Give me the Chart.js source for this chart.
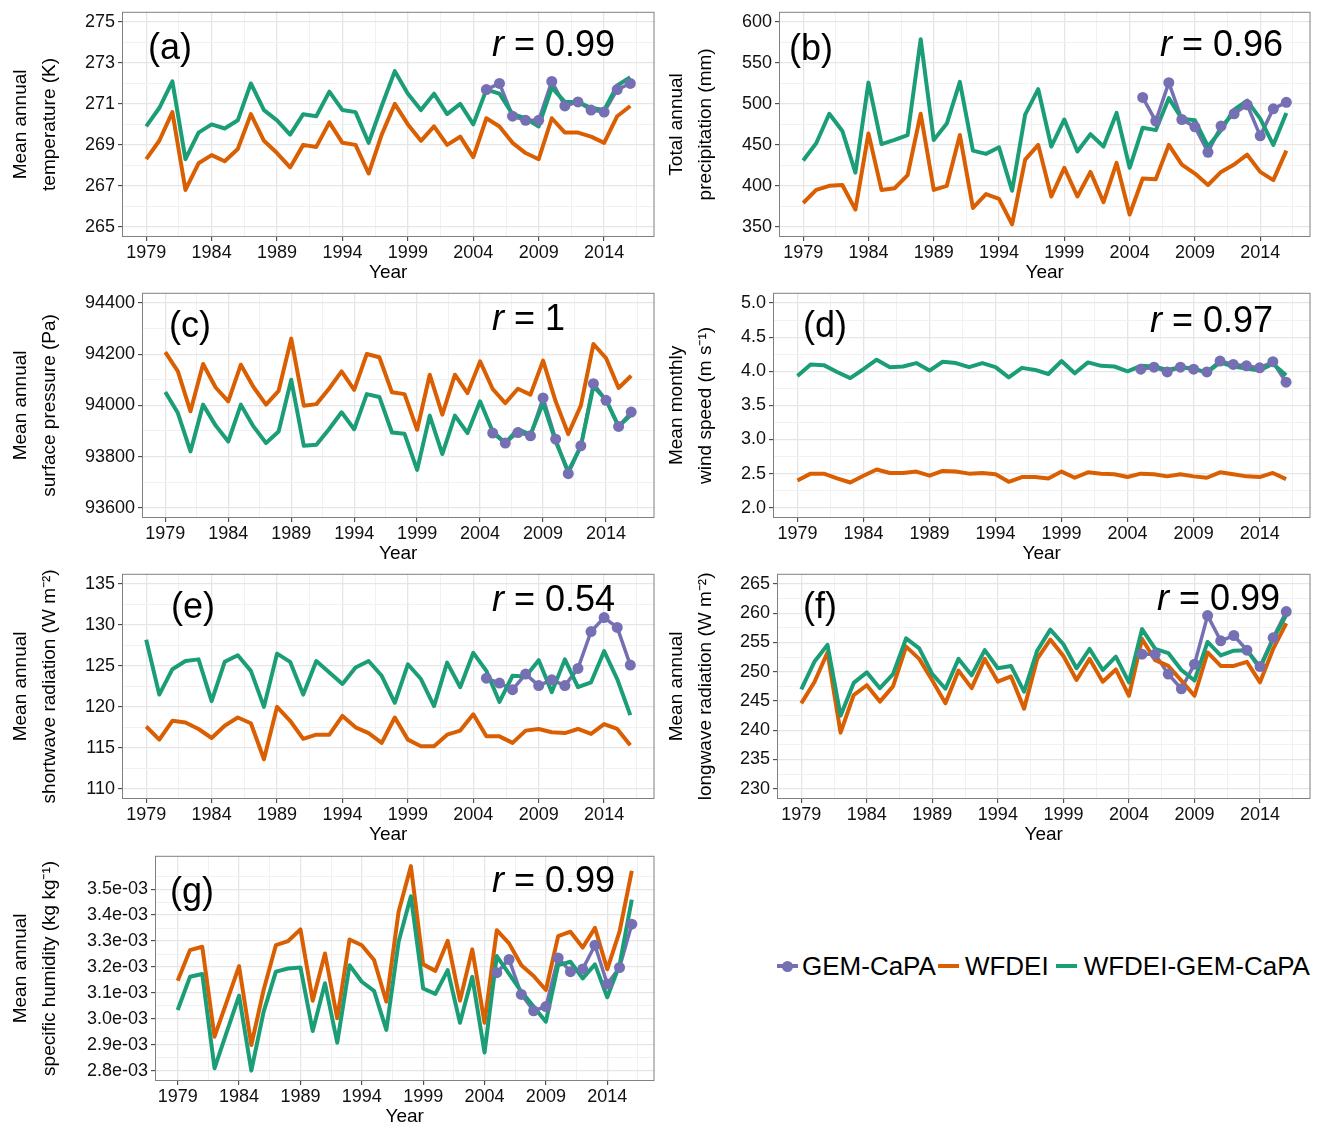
<!DOCTYPE html>
<html>
<head>
<meta charset="utf-8">
<title>WFDEI vs GEM-CaPA forcing</title>
<script src="https://cdn.jsdelivr.net/npm/chart.js@4.4.1/dist/chart.umd.min.js"></script>
<style>
  body { margin: 0; background: #fff; font-family: "Liberation Sans", Arial, sans-serif; }
  #page { position: relative; width: 1322px; height: 1135px; overflow: hidden; }
  #page canvas { position: absolute; }
  .tag { position: absolute; font-size: 36px; line-height: 36px; white-space: nowrap; color: #000; }
  #legend { position: absolute; left: 777px; top: 951px; height: 30px; display: flex; align-items: center; font-size: 26px; color: #000; white-space: nowrap; }
  .key { position: relative; width: 21px; height: 30px; flex: none; }
  .key .ln { position: absolute; left: 0; right: 0; top: 13px; height: 4px; }
  .key .pt { position: absolute; left: 5px; top: 10px; width: 11px; height: 11px; border-radius: 50%; }
</style>
</head>
<body>
<div id="page"></div>
<script>
// ---- data ----
const years = [1979, 1980, 1981, 1982, 1983, 1984, 1985, 1986, 1987, 1988, 1989, 1990, 1991,
  1992, 1993, 1994, 1995, 1996, 1997, 1998, 1999, 2000, 2001, 2002, 2003, 2004, 2005,
  2006, 2007, 2008, 2009, 2010, 2011, 2012, 2013, 2014, 2015, 2016];
const gemYears = [2005, 2006, 2007, 2008, 2009, 2010, 2011, 2012, 2013, 2014, 2015, 2016];

const seriesNames = ['GEM-CaPA', 'WFDEI', 'WFDEI-GEM-CaPA'];
const seriesColors = ['#7570b3', '#d95f02', '#1b9e77'];

const xTickStart = 1979;
const xTickStep = 5;
const xTickLast = 2014;

// (a) temperature, K
const tempWfdei = [268.3, 269.2, 270.6, 266.8, 268.1, 268.5, 268.2, 268.8, 270.5, 269.2, 268.6, 267.9, 269.0,
  268.9, 270.1, 269.1, 269.0, 267.6, 269.5, 271.0, 270.0, 269.2, 269.9, 269.0, 269.4, 268.4, 270.3,
  269.9, 269.1, 268.6, 268.3, 270.3, 269.6, 269.6, 269.4, 269.1, 270.4, 270.9];
const tempWfdeiGem = [269.9, 270.8, 272.1, 268.3, 269.6, 270.0, 269.8, 270.2, 272.0, 270.7, 270.2, 269.5, 270.5,
  270.4, 271.6, 270.7, 270.6, 269.1, 270.9, 272.6, 271.5, 270.7, 271.5, 270.5, 271.0, 270.0, 271.7,
  271.5, 270.5, 270.3, 269.9, 271.8, 271.1, 271.1, 270.8, 270.7, 271.9, 272.3];
const tempGem = [271.7, 272.0, 270.4, 270.2, 270.2, 272.1, 270.9, 271.1, 270.7, 270.6, 271.7, 272.0];

// (b) precipitation, mm
const precipWfdei = [379, 395, 400, 401, 371, 464, 395, 397, 413, 488, 395, 400, 462,
  373, 390, 384, 353, 432, 450, 387, 422, 387, 417, 380, 428, 365, 409,
  408, 450, 426, 415, 401, 417, 426, 438, 417, 407, 443];
const precipWfdeiGem = [431, 452, 488, 467, 416, 526, 451, 456, 462, 579, 456, 476, 527,
  443, 439, 447, 394, 487, 518, 448, 481, 442, 463, 448, 489, 422, 471,
  468, 507, 482, 480, 448, 468, 493, 504, 482, 450, 489];
const precipGem = [508, 479, 526, 481, 472, 441, 473, 488, 499, 461, 494, 502];

// (c) surface pressure, Pa
const presWfdei = [94208, 94133, 93977, 94162, 94070, 94016, 94159, 94072, 94003, 94057, 94261, 93999, 94005,
  94065, 94133, 94061, 94201, 94188, 94051, 94044, 93905, 94120, 93964, 94120, 94048, 94172, 94064,
  94009, 94065, 94042, 94175, 94016, 93888, 93999, 94240, 94185, 94068, 94116];
const presWfdeiGem = [94052, 93970, 93820, 94003, 93921, 93859, 94003, 93918, 93853, 93898, 94100, 93842, 93846,
  93907, 93973, 93907, 94044, 94033, 93894, 93889, 93748, 93960, 93810, 93960, 93892, 94016, 93898,
  93853, 93907, 93885, 94009, 93859, 93742, 93840, 94074, 94022, 93918, 93963];
const presGem = [93892, 93853, 93894, 93881, 94029, 93868, 93733, 93842, 94085, 94020, 93918, 93974];

// (d) wind speed, m/s
const windWfdei = [2.40, 2.50, 2.50, 2.43, 2.37, 2.47, 2.56, 2.51, 2.51, 2.53, 2.47, 2.54, 2.53,
  2.50, 2.51, 2.49, 2.38, 2.45, 2.45, 2.43, 2.53, 2.44, 2.52, 2.50, 2.49, 2.45, 2.50,
  2.49, 2.46, 2.49, 2.46, 2.44, 2.52, 2.49, 2.46, 2.45, 2.51, 2.42];
const windWfdeiGem = [3.93, 4.10, 4.09, 3.99, 3.90, 4.03, 4.17, 4.06, 4.07, 4.12, 4.01, 4.14, 4.12,
  4.06, 4.12, 4.06, 3.91, 4.05, 4.02, 3.96, 4.15, 3.97, 4.13, 4.08, 4.07, 4.00, 4.08,
  4.07, 4.02, 4.06, 4.04, 3.98, 4.13, 4.07, 4.04, 4.01, 4.11, 3.94];
const windGem = [4.03, 4.06, 3.99, 4.06, 4.03, 3.99, 4.15, 4.10, 4.08, 4.05, 4.14, 3.84];

// (e) shortwave radiation, W m-2
const swWfdei = [117.6, 116.0, 118.3, 118.1, 117.3, 116.2, 117.7, 118.7, 118.0, 113.6, 120.0, 118.3, 116.1,
  116.6, 116.6, 118.9, 117.5, 116.8, 115.6, 118.7, 116.0, 115.2, 115.2, 116.6, 117.1, 119.1, 116.4,
  116.4, 115.6, 117.1, 117.3, 116.9, 116.8, 117.3, 116.7, 117.9, 117.3, 115.3];
const swWfdeiGem = [128.2, 121.5, 124.6, 125.6, 125.8, 120.7, 125.5, 126.3, 124.4, 120.0, 126.5, 125.5, 121.5,
  125.6, 124.2, 122.8, 124.8, 125.6, 123.8, 120.5, 125.2, 123.4, 120.1, 125.4, 122.4, 126.6, 124.4,
  120.6, 123.8, 123.7, 125.7, 121.8, 125.8, 122.4, 123.0, 126.8, 123.4, 119.0];
const swGem = [123.5, 122.9, 122.1, 124.0, 122.6, 123.3, 122.6, 124.7, 129.2, 130.9, 129.7, 125.1];

// (f) longwave radiation, W m-2
const lwWfdei = [244.6, 248.2, 253.3, 239.6, 246.0, 247.7, 244.9, 247.5, 254.3, 252.2, 248.5, 244.6, 250.2,
  247.2, 252.2, 248.3, 249.2, 243.7, 252.2, 255.5, 252.7, 248.6, 252.2, 248.3, 250.4, 245.9, 255.6,
  252.0, 251.0, 248.5, 245.9, 253.3, 251.0, 251.0, 251.7, 248.2, 253.9, 258.3];
const lwWfdeiGem = [247.0, 251.7, 254.6, 242.5, 248.1, 249.9, 247.2, 249.6, 255.7, 254.0, 249.6, 247.1, 252.2,
  249.4, 253.7, 250.6, 251.0, 246.6, 253.6, 257.2, 254.7, 250.6, 253.9, 250.3, 252.6, 248.2, 257.3,
  253.9, 253.2, 250.3, 248.5, 255.1, 252.8, 253.6, 253.7, 250.6, 255.6, 259.7];
const lwGem = [253.0, 253.0, 249.6, 247.1, 251.3, 259.6, 255.3, 256.2, 253.7, 250.9, 255.8, 260.3];

// (g) specific humidity, kg/kg
const humWfdei = [3.147e-3, 3.265e-3, 3.278e-3, 2.931e-3, 3.066e-3, 3.203e-3, 2.899e-3, 3.111e-3, 3.284e-3,
  3.300e-3, 3.345e-3, 3.070e-3, 3.252e-3, 3.002e-3, 3.306e-3, 3.284e-3, 3.227e-3, 3.066e-3, 3.413e-3,
  3.589e-3, 3.210e-3, 3.185e-3, 3.301e-3, 3.070e-3, 3.268e-3, 2.985e-3, 3.342e-3, 3.291e-3, 3.207e-3,
  3.165e-3, 3.111e-3, 3.319e-3, 3.336e-3, 3.275e-3, 3.351e-3, 3.191e-3, 3.336e-3, 3.571e-3];
const humWfdeiGem = [3.034e-3, 3.162e-3, 3.173e-3, 2.809e-3, 2.950e-3, 3.089e-3, 2.800e-3, 3.027e-3, 3.182e-3,
  3.194e-3, 3.198e-3, 2.953e-3, 3.137e-3, 2.908e-3, 3.207e-3, 3.143e-3, 3.108e-3, 2.957e-3, 3.297e-3,
  3.473e-3, 3.117e-3, 3.096e-3, 3.188e-3, 2.985e-3, 3.162e-3, 2.870e-3, 3.242e-3, 3.173e-3, 3.105e-3,
  3.047e-3, 2.989e-3, 3.207e-3, 3.220e-3, 3.156e-3, 3.210e-3, 3.083e-3, 3.207e-3, 3.460e-3];
const humGem = [3.178e-3, 3.229e-3, 3.094e-3, 3.031e-3, 3.047e-3, 3.235e-3, 3.182e-3, 3.192e-3, 3.284e-3,
  3.134e-3, 3.198e-3, 3.365e-3];

// ---- formatting ----
const intFmt = v => String(Math.round(v));
const oneDec = v => v.toFixed(1);
function sciFmt(v) {
  const e = Math.floor(Math.log10(v) + 1e-9);
  const m = (v / Math.pow(10, e)).toFixed(1);
  return m + 'e' + (e < 0 ? '-' : '+') + String(Math.abs(e)).padStart(2, '0');
}

const panels = [
  { key: 'a', r: '0.99', title: ['Mean annual', 'temperature (K)'],
    gem: tempGem, wfdei: tempWfdei, mix: tempWfdeiGem,
    yMin: 264.5, yMax: 275.5, yStart: 265, yStep: 2, yLast: 275, fmt: intFmt },
  { key: 'b', r: '0.96', title: ['Total annual', 'precipitation (mm)'],
    gem: precipGem, wfdei: precipWfdei, mix: precipWfdeiGem,
    yMin: 337.5, yMax: 612.5, yStart: 350, yStep: 50, yLast: 600, fmt: intFmt },
  { key: 'c', r: '1', title: ['Mean annual', 'surface pressure (Pa)'],
    gem: presGem, wfdei: presWfdei, mix: presWfdeiGem,
    yMin: 93560, yMax: 94440, yStart: 93600, yStep: 200, yLast: 94400, fmt: intFmt },
  { key: 'd', r: '0.97', title: ['Mean monthly', 'wind speed (m s\u207B\u00B9)'],
    gem: windGem, wfdei: windWfdei, mix: windWfdeiGem,
    yMin: 1.85, yMax: 5.15, yStart: 2, yStep: 0.5, yLast: 5, fmt: oneDec },
  { key: 'e', r: '0.54', title: ['Mean annual', 'shortwave radiation (W m\u207B\u00B2)'],
    gem: swGem, wfdei: swWfdei, mix: swWfdeiGem,
    yMin: 108.75, yMax: 136.25, yStart: 110, yStep: 5, yLast: 135, fmt: intFmt },
  { key: 'f', r: '0.99', title: ['Mean annual', 'longwave radiation (W m\u207B\u00B2)'],
    gem: lwGem, wfdei: lwWfdei, mix: lwWfdeiGem,
    yMin: 228.25, yMax: 266.75, yStart: 230, yStep: 5, yLast: 265, fmt: intFmt },
  { key: 'g', r: '0.99', title: ['Mean annual', 'specific humidity (kg kg\u207B\u00B9)'],
    gem: humGem, wfdei: humWfdei, mix: humWfdeiGem,
    yMin: 2.76e-3, yMax: 3.629e-3, yStart: 2.8e-3, yStep: 1e-4, yLast: 3.5e-3, fmt: sciFmt }
];

// ---- layout (page pixels) ----
const layout = {
  a: { box: [122, 12, 654, 237], titleLeft: 6, tag: [148, 59], r: [492, 56.5] },
  b: { box: [779, 12, 1310, 237], titleLeft: 662, tag: [789, 60], r: [1160, 56.5] },
  c: { box: [142, 293, 654, 518], titleLeft: 6, tag: [169, 337], r: [492, 330] },
  d: { box: [773, 293, 1310, 518], titleLeft: 662, tag: [803, 337], r: [1150, 332] },
  e: { box: [122, 574, 654, 799], titleLeft: 6, tag: [171, 618], r: [492, 611] },
  f: { box: [777, 574, 1310, 799], titleLeft: 662, tag: [803, 618], r: [1157, 610] },
  g: { box: [155, 856, 654, 1081], titleLeft: 6, tag: [170, 903], r: [492, 892] }
};
const xMin = 1977.15, xMax = 2017.85;
const xAxisH = 47;

Chart.defaults.font.family = '"Liberation Sans", Arial, sans-serif';

// major ticks every step up to `last`, minor ticks halfway (one beyond `last`), all inside [min, max]
function makeTicks(start, step, last, min, max) {
  const out = [];
  const top = Math.min(max, last + step / 2);
  for (let j = -4; j < 400; j++) {
    const v = start + j * step / 2;
    if (v > top + 1e-12) break;
    if (v < min - 1e-12) continue;
    out.push({ value: v, isMajor: j % 2 === 0 });
  }
  return out;
}

const gridColor = c => (c.tick && c.tick.isMajor ? '#e6e6e6' : '#f1f1f1');
const gridWidth = c => (c.tick && c.tick.isMajor ? 1.3 : 1);
const tickMarkColor = c => (c.tick && c.tick.isMajor ? '#333' : 'rgba(0,0,0,0)');

const frame = {
  id: 'frame',
  afterDraw(chart) {
    const { ctx, chartArea: a } = chart;
    ctx.save();
    ctx.strokeStyle = '#808080';
    ctx.lineWidth = 1;
    ctx.strokeRect(a.left + 0.5, a.top + 0.5, a.right - a.left - 1, a.bottom - a.top - 1);
    ctx.restore();
  }
};

function pts(xs, ys) {
  return xs.map((x, i) => ({ x: x, y: ys[i] }));
}

function config(p, axisW) {
  const [purple, orange, green] = seriesColors;
  return {
    type: 'line',
    data: {
      datasets: [
        { label: seriesNames[0], data: pts(gemYears, p.gem), borderColor: purple, borderWidth: 3.5,
          pointRadius: 0, order: 3 },
        { label: seriesNames[1], data: pts(years, p.wfdei), borderColor: orange, borderWidth: 4,
          pointRadius: 0, order: 2 },
        { label: seriesNames[2], data: pts(years, p.mix), borderColor: green, borderWidth: 4,
          pointRadius: 0, order: 1 },
        { label: seriesNames[0] + ' points', data: pts(gemYears, p.gem), showLine: false,
          pointRadius: 5.5, pointBackgroundColor: purple, pointBorderWidth: 0, order: 0 }
      ]
    },
    options: {
      responsive: false,
      animation: false,
      events: [],
      layout: { padding: 0 },
      elements: { line: { tension: 0, borderJoinStyle: 'round' } },
      plugins: { legend: { display: false }, tooltip: { enabled: false } },
      scales: {
        x: {
          type: 'linear', min: xMin, max: xMax,
          afterBuildTicks: s => { s.ticks = makeTicks(xTickStart, xTickStep, xTickLast, xMin, xMax); },
          afterFit: s => { s.height = xAxisH; },
          ticks: { autoSkip: false, maxRotation: 0, padding: 1, color: '#111', font: { size: 18 },
            callback: (v, i, t) => (t[i].isMajor ? String(Math.round(v)) : '') },
          grid: { color: gridColor, lineWidth: gridWidth, tickLength: 4, tickColor: tickMarkColor, tickWidth: 1 },
          border: { display: false },
          title: { display: true, text: 'Year', color: '#000', font: { size: 19 }, padding: 0 }
        },
        y: {
          type: 'linear', min: p.yMin, max: p.yMax,
          afterBuildTicks: s => { s.ticks = makeTicks(p.yStart, p.yStep, p.yLast, p.yMin, p.yMax); },
          afterFit: s => { s.width = axisW; },
          ticks: { autoSkip: false, padding: 3, color: '#111', font: { size: 18 },
            callback: (v, i, t) => (t[i].isMajor ? p.fmt(v) : '') },
          grid: { color: gridColor, lineWidth: gridWidth, tickLength: 4, tickColor: tickMarkColor, tickWidth: 1 },
          border: { display: false },
          title: { display: true, text: p.title, color: '#000', font: { size: 19, lineHeight: 1.55 }, padding: 0 }
        }
      }
    },
    plugins: [frame]
  };
}

const page = document.getElementById('page');

panels.forEach(p => {
  const L = layout[p.key];
  const [x0, y0, x1, y1] = L.box;
  const axisW = x0 - L.titleLeft;

  // first pass: find the margins around the plot area
  let canvas = document.createElement('canvas');
  canvas.width = 700; canvas.height = 320;
  page.appendChild(canvas);
  let chart = new Chart(canvas, config(p, axisW));
  const a = chart.chartArea;
  const ml = a.left, mt = a.top, mr = 700 - a.right, mb = 320 - a.bottom;
  chart.destroy();
  canvas.remove();

  // second pass: size and place the canvas so the plot area lands on the box
  canvas = document.createElement('canvas');
  const w = Math.round((x1 - x0) + ml + mr), h = Math.round((y1 - y0) + mt + mb);
  canvas.width = w; canvas.height = h;
  canvas.style.width = w + 'px'; canvas.style.height = h + 'px';
  canvas.style.left = (x0 - ml) + 'px';
  canvas.style.top = (y0 - mt) + 'px';
  page.appendChild(canvas);
  new Chart(canvas, config(p, axisW));

  // panel tag and correlation
  const tag = document.createElement('div');
  tag.className = 'tag';
  tag.textContent = '(' + p.key + ')';
  tag.style.left = L.tag[0] + 'px';
  tag.style.top = (L.tag[1] - 30.5) + 'px';
  page.appendChild(tag);

  const r = document.createElement('div');
  r.className = 'tag';
  r.innerHTML = '<i>r</i> = ' + p.r;
  r.style.left = L.r[0] + 'px';
  r.style.top = (L.r[1] - 30.5) + 'px';
  page.appendChild(r);
});

// legend
const legend = document.createElement('div');
legend.id = 'legend';
const gaps = [[4, 2], [6, 7], [7, 0]];
seriesNames.forEach((name, i) => {
  const key = document.createElement('div');
  key.className = 'key';
  key.innerHTML = '<div class="ln" style="background:' + seriesColors[i] + '"></div>' +
    (i === 0 ? '<div class="pt" style="background:' + seriesColors[i] + '"></div>' : '');
  key.style.marginRight = gaps[i][0] + 'px';
  const txt = document.createElement('span');
  txt.textContent = name;
  txt.style.marginRight = gaps[i][1] + 'px';
  legend.appendChild(key);
  legend.appendChild(txt);
});
page.appendChild(legend);
</script>
</body>
</html>
